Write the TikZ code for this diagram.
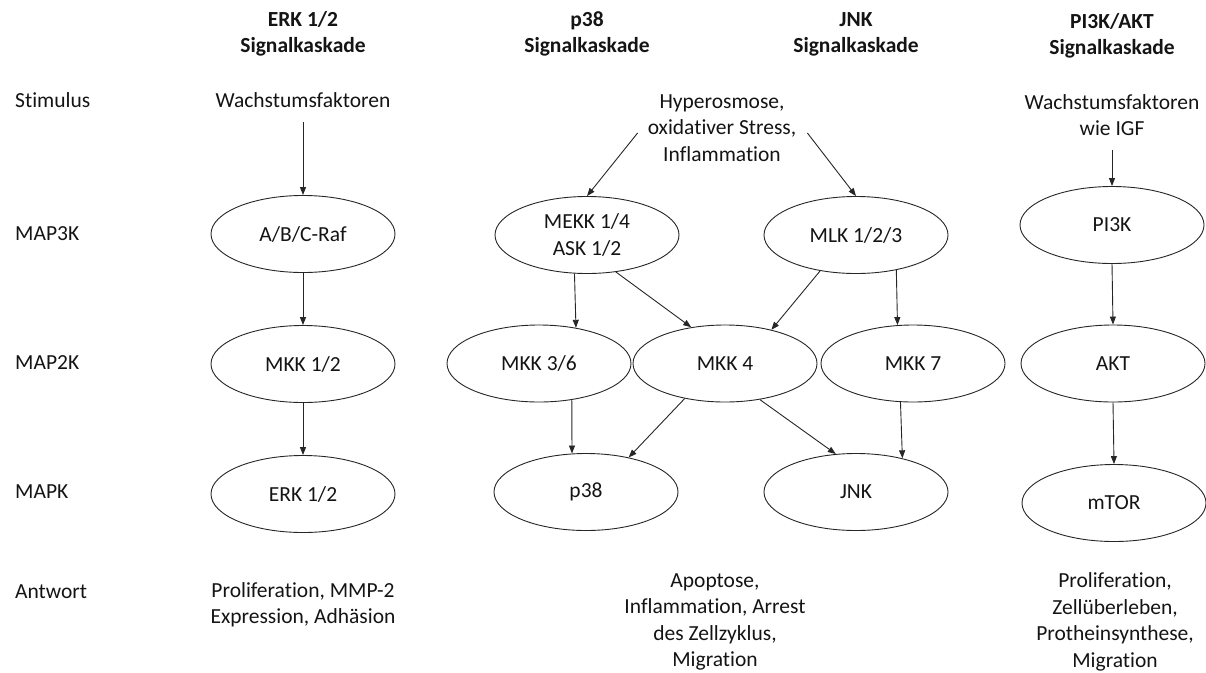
\documentclass[tikz,border=0pt]{standalone}
\usepackage{fontspec}
\setmainfont{Carlito}[Ligatures={NoCommon}]
\usetikzlibrary{shapes.geometric,arrows.meta}
\definecolor{txt}{HTML}{141414}
\tikzset{
  base/.style={font=\fontsize{21.5}{26.5}\selectfont, text=txt, align=center, inner sep=0pt},
  head/.style={base, font=\fontsize{21.5}{26}\selectfont\bfseries},
  rowlab/.style={base, anchor=west},
  oval/.style={base, draw=black!85, line width=0.9pt, ellipse, minimum width=184pt, minimum height=77pt},
  arr/.style={draw=black!85, line width=0.9pt, -{Triangle[length=8pt,width=6pt]}}
}
\begin{document}
\begin{tikzpicture}[x=1pt,y=-1pt]
\useasboundingbox (0,0) rectangle (1206,672);
% headings
\node[head] (h1) at (303,34) {ERK 1/2\\Signalkaskade};
\node[head] (h2) at (587,34) {p38\\Signalkaskade};
\node[head] (h3) at (856,34) {JNK\\Signalkaskade};
\node[head] (h4) at (1112,36) {PI3K/AKT\\Signalkaskade};
% row labels
\node[rowlab] (l1) at (15,100) {Stimulus};
\node[rowlab] (l2) at (15,234) {MAP3K};
\node[rowlab] (l3) at (15,363) {MAP2K};
\node[rowlab] (l4) at (15,492) {MAPK};
\node[rowlab] (l5) at (15,592) {Antwort};
% stimuli
\node[base] (wf1) at (303,100) {Wachstumsfaktoren};
\node[base] (hyp) at (722,128) {Hyperosmose,\\oxidativer Stress,\\Inflammation};
\node[base] (wf2) at (1112,115) {Wachstumsfaktoren\\wie IGF};
% ERK column
\node[oval] (raf) at (303,234) {A/B/C-Raf};
\node[oval] (mkk12) at (303,364) {MKK 1/2};
\node[oval] (erk) at (303,494) {ERK 1/2};
% p38 / JNK
\node[oval] (mekk) at (587,235) {MEKK 1/4\\ASK 1/2};
\node[oval] (mlk) at (856,235) {MLK 1/2/3};
\node[oval] (mkk36) at (539,363.5) {MKK 3/6};
\node[oval] (mkk4) at (725,363.5) {MKK 4};
\node[oval] (mkk7) at (913,363.5) {MKK 7};
\node[oval] (p38) at (586,492) {p38};
\node[oval] (jnk) at (856,492) {JNK};
% PI3K column
\node[oval] (pi3k) at (1112,225) {PI3K};
\node[oval] (akt) at (1113,363.5) {AKT};
\node[oval] (mtor) at (1114,503) {mTOR};
% responses
\node[base] (r1) at (303,605) {Proliferation, MMP-2\\Expression, Adhäsion};
\node[base] (r2) at (715,622) {Apoptose,\\Inflammation, Arrest\\des Zellzyklus,\\Migration};
\node[base] (r3) at (1115,622) {Proliferation,\\Zellüberleben,\\Protheinsynthese,\\Migration};
% arrows ERK
\draw[arr] ([yshift=-14pt]wf1.south) -- (raf.north);
\draw[arr] (raf.south) -- (mkk12.north);
\draw[arr] (mkk12.south) -- (erk.north);
% arrows p38/JNK
\draw[arr] ([xshift=-10pt,yshift=-5pt]hyp.west) -- (mekk.north);
\draw[arr] ([xshift=11pt,yshift=-5pt]hyp.east) -- (mlk.north);
\draw[arr] (mekk.252.6) -- (mkk36.44.5);
\draw[arr] (mekk.308.2) -- (mkk4.133.7);
\draw[arr] (mlk.225) -- (mkk4.36.7);
\draw[arr] (mlk.319.9) -- (mkk7.112.9);
\draw[arr] (mkk36.312.6) -- (p38.110.2);
\draw[arr] (mkk4.221.3) -- (p38.39.1);
\draw[arr] (mkk4.314.6) -- (jnk.118.5);
\draw[arr] (mkk7.252.6) -- (jnk.36.7);
% arrows PI3K
\draw[arr] ([yshift=-14pt]wf2.south) -- (pi3k.north);
\draw[arr] (pi3k.south) -- (akt.north);
\draw[arr] (akt.south) -- (mtor.north);
\end{tikzpicture}
\end{document}
